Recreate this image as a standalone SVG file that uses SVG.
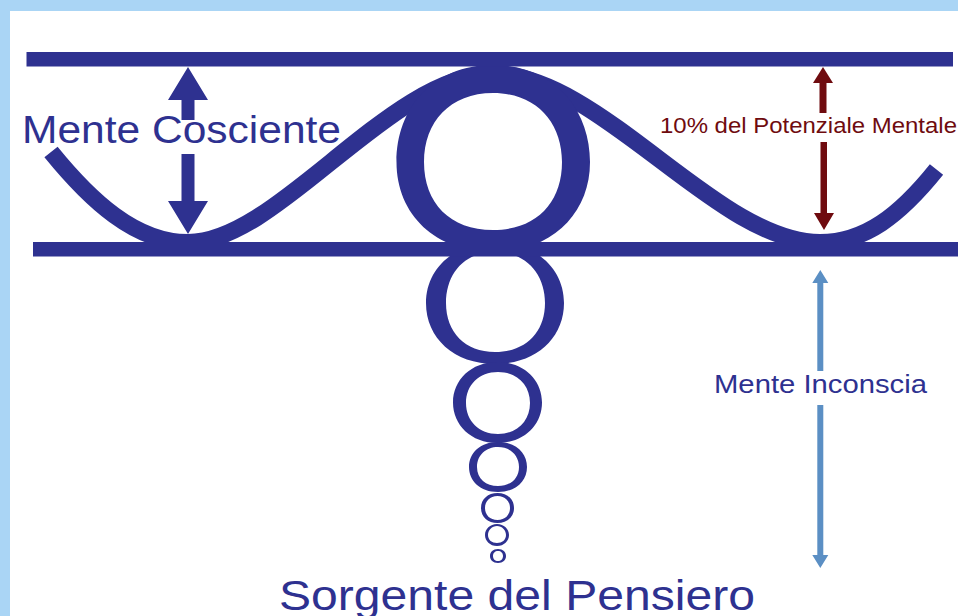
<svg xmlns="http://www.w3.org/2000/svg" width="958" height="616" viewBox="0 0 958 616">
<style>
.n{fill:#2e3190}
.o{fill:#2e3190;fill-rule:evenodd}
.r{fill:#6f0b0f}
.b{fill:#5b8fc4}
text{font-family:"Liberation Sans",Arial,sans-serif}
</style>
<rect width="958" height="616" fill="#aad5f5"/>
<rect x="10" y="11" width="948" height="605" fill="#fff"/>
<g id="wave"><path d="M51,152 C90,200 135,242.500 188,242.500 C278,242.500 390,74 493,74 C600,74 717,242.500 820,242.500 C865,242.500 900,215 936.500,169.500" fill="none" stroke="#2e3190" stroke-width="17"/></g>
<g id="bubbles">
<path id="o1" class="o" d="M493,65C553,65 590,108 590,162C590,215 550,252 493,252C436,252 396.500,215 396.500,162C396.500,108 433,65 493,65ZM493,93C450,93 424,122 424,162C424,203 450,230 493,230C536,230 562,203 562,162C562,122 536,93 493,93Z"/>
<path id="o2" class="o" d="M495,243C538,243 564,270 564,303C564,338 536,364 495,364C454,364 426,338 426,303C426,270 452,243 495,243ZM495,252C464,252 446,274 446,303C446,332 465,352 495,352C526,352 545,332 545,303C545,274 526,252 495,252Z"/>
<path id="o3" class="o" d="M497.500,362C524,362 542,380 542,402.500C542,425 524,443 497.500,443C471,443 453,425 453,402.500C453,380 471,362 497.500,362ZM498,372C479,372 466,385 466,403C466,421 479,434 498,434C517,434 530,421 530,403C530,385 517,372 498,372Z"/>
<path id="o4" class="o" d="M498,442C516,442 527,453 527,467C527,481 516,492 498,492C480,492 469,481 469,467C469,453 480,442 498,442ZM498,447C486,447 477,455 477,467C477,479 486,486 498,486C510,486 519,479 519,467C519,455 510,447 498,447Z"/>
<path id="o5" class="o" d="M497.500,493C507,493 514,499 514,508C514,517 507,523 497.500,523C488,523 481,517 481,508C481,499 488,493 497.500,493ZM497.500,496C490,496 485,501 485,508C485,515 490,520 497.500,520C505,520 510,515 510,508C510,501 505,496 497.500,496Z"/>
<path id="o6" class="o" d="M497,524C504,524 509,529 509,535C509,541 504,546 497,546C490,546 485,541 485,535C485,529 490,524 497,524ZM497,526C492,526 488,530 488,535C488,540 492,543 497,543C502,543 506,540 506,535C506,530 502,526 497,526Z"/>
<path id="o7" class="o" d="M498,549C503,549 506,552 506,556C506,560 503,563 498,563C493,563 490,560 490,556C490,552 493,549 498,549ZM498,551C495,551 493,553 493,556C493,559 495,561 498,561C501,561 503,559 503,556C503,553 501,551 498,551Z"/>
</g>
<g id="bars">
<rect class="n" x="26.500" y="52" width="926.500" height="14.500"/>
<rect class="n" x="33" y="242" width="925" height="14.500"/>
</g>
<g id="arrows">
<path class="n" d="M188,67L208,100H194.500V120H181.500V100H168Z"/>
<path class="n" d="M181.500,154H194.500V201H208L188,234L168,201H181.500Z"/>
<path class="r" d="M823,67L833,83H826.500V113H819.500V83H813Z"/>
<path class="r" d="M820.500,142H827V213H834L824,230L814,213H820.500Z"/>
<path class="b" d="M820.300,270L828.300,283H823.300V371H817.300V283H812.300Z"/>
<path class="b" d="M817.300,405H823.300V555H828.300L820.300,568L812.300,555H817.300Z"/>
</g>
<g id="labels">
<text x="22" y="143" font-size="38" textLength="319" lengthAdjust="spacingAndGlyphs" fill="#2e3190">Mente Cosciente</text>
<text x="660" y="133" font-size="22" textLength="297" lengthAdjust="spacingAndGlyphs" fill="#6f0b0f">10% del Potenziale Mentale</text>
<text x="714" y="393" font-size="26" textLength="213" lengthAdjust="spacingAndGlyphs" fill="#2e3190">Mente Inconscia</text>
<text x="279" y="610" font-size="43" textLength="476" lengthAdjust="spacingAndGlyphs" fill="#2e3190">Sorgente del Pensiero</text>
</g>
</svg>
